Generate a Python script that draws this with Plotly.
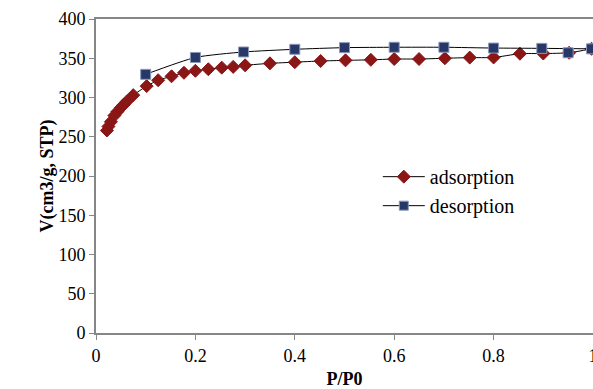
import plotly.graph_objects as go

# Adsorption branch (P/P0, V cm3/g STP)
p_ads = [0.022, 0.025, 0.030, 0.037, 0.043, 0.050, 0.056, 0.062, 0.075, 0.102,
         0.125, 0.152, 0.177, 0.200, 0.226, 0.253, 0.276, 0.300, 0.350, 0.400,
         0.452, 0.502, 0.553, 0.600, 0.650, 0.702, 0.752, 0.800, 0.853, 0.900,
         0.952, 0.997]
v_ads = [258, 263, 269, 277, 282, 287, 291, 295, 303, 314.5,
         322, 327, 331.5, 334, 336, 338, 339, 341, 343.5, 345,
         346.5, 347.3, 348, 349, 349, 350, 350.8, 351, 355.8, 356,
         357, 362]

# Desorption branch
p_des = [0.997, 0.950, 0.897, 0.800, 0.700, 0.600, 0.500, 0.400, 0.297, 0.200, 0.100]
v_des = [362, 357, 362.6, 363, 364, 364, 363.5, 361.4, 358, 351, 329.5]
# index of the desorption point that the drawn curve does not pass through
des_off_curve = [1]

x_ticks = [0, 0.2, 0.4, 0.6, 0.8, 1]
x_tick_labels = ["0", "0.2", "0.4", "0.6", "0.8", "1"]
y_ticks = [0, 50, 100, 150, 200, 250, 300, 350, 400]

FONT = "Liberation Serif"
RED = "#8B1616"
NAVY = "#263768"

fig = go.Figure()

# adsorption
fig.add_trace(go.Scatter(
    x=p_ads, y=v_ads, mode="lines+markers", name="adsorption",
    line=dict(color="black", width=1, shape="spline", smoothing=0.6),
    marker=dict(symbol="diamond", size=10, color=RED, line=dict(color=RED, width=1)),
))

# desorption curve + markers
p_line = [p for i, p in enumerate(p_des) if i not in des_off_curve]
v_line = [v for i, v in enumerate(v_des) if i not in des_off_curve]
fig.add_trace(go.Scatter(
    x=p_line, y=v_line, mode="lines", showlegend=False,
    line=dict(color="black", width=1, shape="spline", smoothing=0.6),
    hoverinfo="skip",
))
fig.add_trace(go.Scatter(
    x=p_des, y=v_des, mode="markers", name="desorption", showlegend=False,
    marker=dict(symbol="square", size=10, color=NAVY, line=dict(color="#8A99B8", width=1)),
))
# legend entry for desorption (line + marker)
fig.add_trace(go.Scatter(
    x=[None], y=[None], mode="lines+markers", name="desorption",
    line=dict(color="black", width=1),
    marker=dict(symbol="square", size=9, color=NAVY, line=dict(color="#8A99B8", width=1)),
))

axis_common = dict(
    showgrid=False, zeroline=False, showline=True, linecolor="#868686", linewidth=2,
    mirror=True, ticks="outside", ticklen=5, tickwidth=1, tickcolor="#868686",
    tickfont=dict(family=FONT, size=18, color="black"), automargin=False,
    ticklabeloverflow="allow",
)

fig.update_layout(
    width=593, height=389,
    margin=dict(l=96, r=0, t=19, b=56),
    paper_bgcolor="white", plot_bgcolor="white",
    font=dict(family=FONT, size=18, color="black"),
    xaxis=dict(range=[0, 1], tickvals=x_ticks, ticktext=x_tick_labels,
               title=dict(text="<b>P/P0</b>", font=dict(family=FONT, size=18), standoff=8),
               **axis_common),
    yaxis=dict(range=[0, 400], tickvals=y_ticks,
               title=dict(text="<b>V(cm3/g, STP)</b>", font=dict(family=FONT, size=18), standoff=0),
               **axis_common),
    legend=dict(x=0.567, y=0.56, xanchor="left", yanchor="top",
                bgcolor="rgba(0,0,0,0)", font=dict(family=FONT, size=20),
                tracegroupgap=0, itemwidth=42),
    showlegend=True,
)

fig.write_html(
    "out.html",
    config={"responsive": False, "displayModeBar": False},
    post_script="document.body.style.margin='0';document.body.style.overflow='hidden';",
)
